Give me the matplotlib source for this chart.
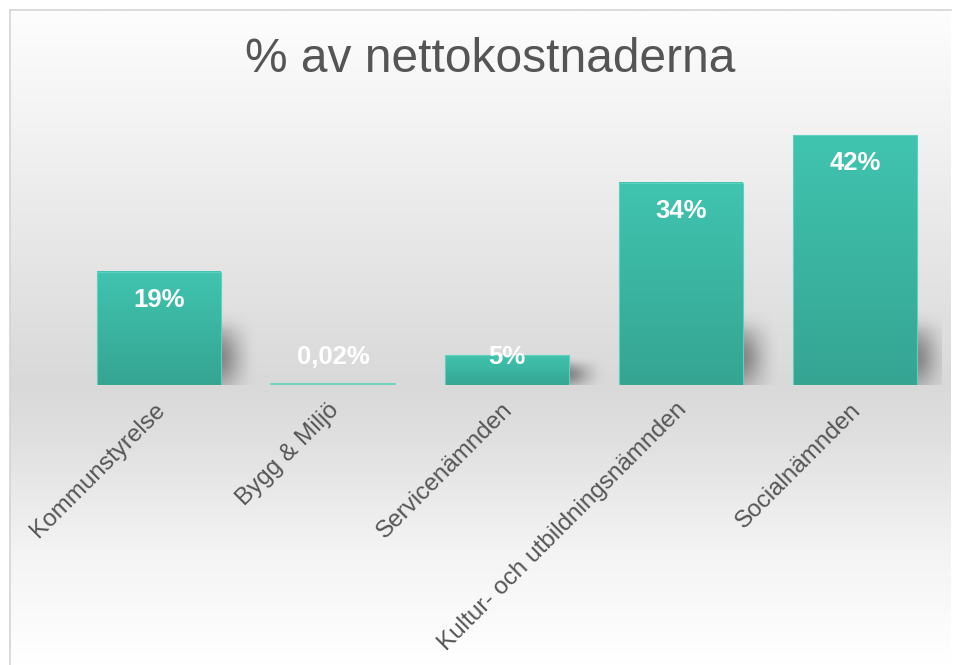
import numpy as np
import matplotlib.pyplot as plt
from matplotlib.colors import LinearSegmentedColormap

categories = ['Kommunstyrelse', 'Bygg & Miljö', 'Servicenämnden',
              'Kultur- och utbildningsnämnden', 'Socialnämnden']
values = [19, 0.02, 5, 34, 42]
labels = ['19%', '0,02%', '5%', '34%', '42%']

plt.rcParams['font.family'] = ['Liberation Sans', 'DejaVu Sans']

W, H = 956, 665
fig = plt.figure(figsize=(W / 100, H / 100), dpi=100)
fig.patch.set_facecolor('white')

# background panel with vertical gradient
bg = fig.add_axes([10 / W, 0, 941 / W, 655 / H])
stops = [(0.0, '#fdfdfd'), (0.17, '#f3f3f3'), (0.57, '#d9d9d9'),
         (0.66, '#e0e0e0'), (0.83, '#f4f4f4'), (1.0, '#ffffff')]
cmap_bg = LinearSegmentedColormap.from_list('bg', stops)
grad = np.linspace(0, 1, 400).reshape(-1, 1)
bg.imshow(grad, aspect='auto', cmap=cmap_bg, extent=[0, 1, 0, 1], origin='upper')
bg.set_xlim(0, 1)
bg.set_ylim(0, 1)
bg.set_xticks([])
bg.set_yticks([])
for s in bg.spines.values():
    s.set_color('#d4d4d4')
    s.set_linewidth(1.2)
bg.spines['bottom'].set_visible(False)
bg.spines['right'].set_visible(False)

# main axes
base_px = 385
ppu = 5.95
ymax = 45
ax = fig.add_axes([72 / W, (H - base_px) / H, 870 / W, ymax * ppu / H])
ax.set_xlim(-0.5, 4.5)
ax.set_ylim(0, ymax)
ax.patch.set_alpha(0)
ax.axis('off')

bar_w = 0.71
cmap_bar = LinearSegmentedColormap.from_list('bar', ['#35a592', '#40c4b0'])

for i, v in enumerate(values):
    # soft shadow to the right of the bar
    sh_h = min(v, 13)
    if v > 1:
        nx, ny = 80, 80
        gx = np.linspace(0, 1, nx)
        gy = np.linspace(0, 1, ny)
        X, Y = np.meshgrid(gx, gy)
        a = (np.exp(-((X - 0.05) / 0.5) ** 2) *
             np.exp(-((Y - 0.35) / 0.4) ** 2) * 0.6)
        a *= np.clip((1 - Y) / 0.3, 0, 1) * np.clip((1 - X) / 0.3, 0, 1)
        img = np.zeros((ny, nx, 4))
        img[..., :3] = 0.3
        img[..., 3] = a
        ax.imshow(img, extent=[i + bar_w / 2 - 0.02, i + bar_w / 2 + 0.22, 0, sh_h],
                  origin='lower', aspect='auto', zorder=1)
    # gradient bar
    if v > 0.5:
        ax.imshow(np.linspace(0, 1, 100).reshape(-1, 1), cmap=cmap_bar,
                  extent=[i - bar_w / 2, i + bar_w / 2, 0, v], origin='lower',
                  aspect='auto', zorder=2)
        ax.add_patch(plt.Rectangle((i - bar_w / 2, 0), bar_w, v, fill=False,
                                   edgecolor='#5fd0bd', linewidth=0.8, zorder=3))
    else:
        ax.plot([i - bar_w / 2, i + bar_w / 2], [0.1, 0.1], color='#5fd0bd',
                linewidth=1.2, zorder=3)
    ly = max(v - 4.7, 4.7)
    ax.text(i, ly, labels[i], ha='center', va='center', color='white',
            fontsize=18.5, fontweight='bold', zorder=4)
    ax.text(i - 0.03, -2.3, categories[i], rotation=45, ha='right', va='top',
            rotation_mode='anchor', color='#555555', fontsize=17.5, zorder=4)

ax.set_xlim(-0.5, 4.5)
ax.set_ylim(0, ymax)

fig.text(490 / W, 1 - 60 / H, '% av nettokostnaderna', ha='center', va='center',
         fontsize=34.5, color='#555555')

fig.savefig('out.png', dpi=100)
